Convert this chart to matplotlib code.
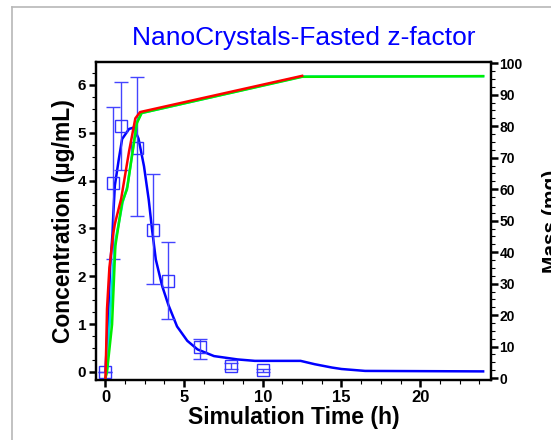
import matplotlib
matplotlib.use("Agg")
import matplotlib.pyplot as plt
from matplotlib.ticker import MultipleLocator
from matplotlib.lines import Line2D

plt.rcParams['font.family'] = ['Liberation Sans', 'DejaVu Sans']

# Simulated plasma concentration (ug/mL)
sim_t = [0, 0.15, 0.3, 0.45, 0.5, 0.6, 0.85, 1.06, 1.5, 1.8, 2.1, 2.45, 2.75, 2.96, 3.2, 3.6,
         4.0, 4.55, 5.2, 5.85, 6.9, 8.4, 9.5, 12.4, 13.3, 14.4, 15.0, 16.5, 24.0]
sim_c = [0, 1.0, 2.2, 2.9, 3.3, 3.9, 4.45, 4.87, 5.08, 5.11, 4.88, 4.3, 3.6, 2.98, 2.35, 1.8,
         1.4, 0.95, 0.65, 0.47, 0.33, 0.26, 0.23, 0.23, 0.16, 0.09, 0.06, 0.02, 0.01]

# Observed concentration with error bars
obs_t = [0, 0.5, 1, 2, 3, 4, 6, 8, 10]
obs_c = [0, 3.95, 5.15, 4.69, 2.97, 1.90, 0.51, 0.13, 0.03]
obs_hi = [0, 5.53, 6.07, 6.16, 4.13, 2.71, 0.69, 0.19, 0.07]
obs_lo = [0, 2.35, 4.22, 3.26, 1.83, 1.10, 0.27, 0.07, 0.00]

# Mass curves (mg)
red_t = [0, 0.05, 0.1, 0.25, 0.5, 0.6, 1.0, 1.5, 1.9, 2.2, 12.5]
red_m = [0, 10, 22, 35, 46, 49, 57, 72, 82.5, 84.5, 96.0]
cyan_t = [0, 0.1, 0.3, 0.5, 0.65, 1.1, 1.4, 2.0, 2.3, 12.5, 24.0]
cyan_m = [0, 3, 20, 36, 44, 56, 61, 81.5, 84.2, 95.8, 95.9]
green_t = [0, 0.1, 0.42, 0.63, 1.06, 1.37, 2.0, 2.3, 12.5, 24.0]
green_m = [0, 2, 17, 42, 55.8, 60, 81, 84.2, 95.7, 95.9]

fig = plt.figure(figsize=(5.51, 4.40), dpi=100)
ax = fig.add_axes([96/551, 1-380/440, (491-96)/551, (380-62)/440])
ax2 = ax.twinx()

ax.plot(sim_t, sim_c, color='#0000ff', lw=1.8, zorder=3)
yerr = [[c - l for c, l in zip(obs_c, obs_lo)], [h - c for c, h in zip(obs_c, obs_hi)]]
ax.errorbar(obs_t, obs_c, yerr=yerr, fmt='s', mfc='none', mec='#3333ff', ms=8, mew=1.0,
            ecolor='#4444ff', elinewidth=1.0, capsize=5, capthick=1.0, zorder=4)

ax2.plot(cyan_t, cyan_m, color='#00e0e0', lw=1.8)
ax2.plot(green_t, green_m, color='#00ee00', lw=1.8)
ax2.plot(red_t, red_m, color='#ff0000', lw=1.8)

ax.set_xlim(-0.6, 24.5)
ax.set_ylim(-0.17, 6.48)
ax2.set_ylim(-0.6, 100.4)

ax.xaxis.set_major_locator(MultipleLocator(5))
ax.xaxis.set_minor_locator(MultipleLocator(1.25))
ax.yaxis.set_major_locator(MultipleLocator(1))
ax.yaxis.set_minor_locator(MultipleLocator(0.25))
ax2.yaxis.set_major_locator(MultipleLocator(10))
ax2.yaxis.set_minor_locator(MultipleLocator(2.5))

for a in (ax, ax2):
    for s in a.spines.values():
        s.set_linewidth(1.6)
ax.tick_params(which='major', direction='out', length=5, width=1.8, labelsize=12, pad=2)
ax.tick_params(which='minor', direction='out', length=3, width=0.8)
ax.tick_params(axis='y', labelsize=11)
ax2.tick_params(which='major', direction='out', length=5, width=1.8, labelsize=10, pad=1)
ax2.tick_params(which='minor', direction='out', length=3, width=0.8)
for lab in ax.get_xticklabels() + ax.get_yticklabels() + ax2.get_yticklabels():
    lab.set_fontweight('bold')

ax.set_xlabel('Simulation Time (h)', fontsize=16.5, fontweight='bold', labelpad=1)
ax.set_ylabel('Concentration (µg/mL)', fontsize=16.5, fontweight='bold', labelpad=2)
ax2.set_ylabel('Mass (mg)', fontsize=15, fontweight='bold', labelpad=14)

fig.text(304/551, 1-38/440, 'NanoCrystals-Fasted z-factor', color='#0000ff', fontsize=19,
         ha='center', va='center')

# outer panel frame
fig.add_artist(Line2D([12/551, 1], [1-7/440, 1-7/440], color='#b8b8b8', lw=1.2))
fig.add_artist(Line2D([12/551, 12/551], [0, 1-7/440], color='#b8b8b8', lw=1.2))

fig.savefig('out.png', dpi=100)
